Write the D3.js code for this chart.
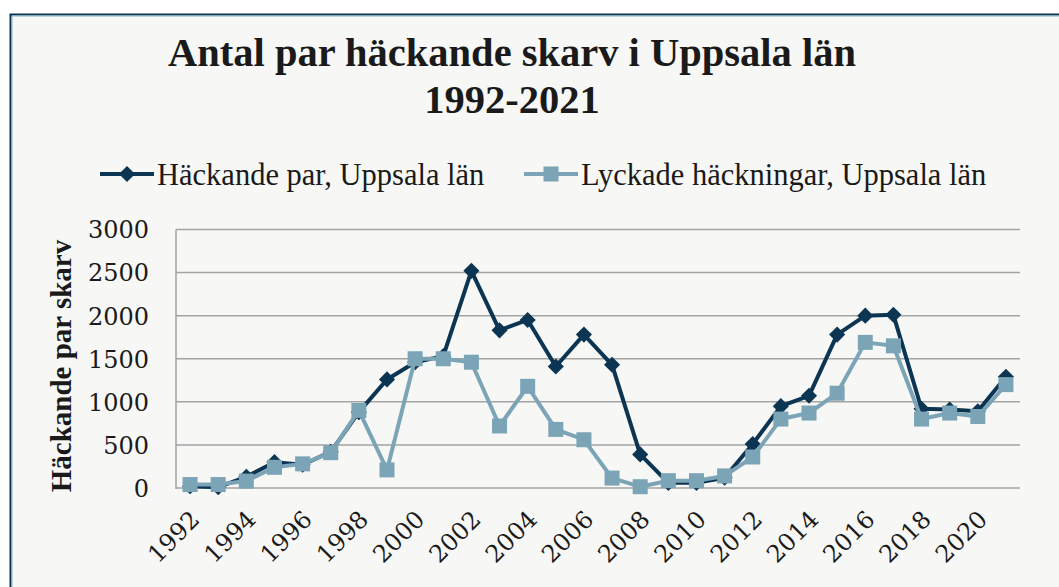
<!DOCTYPE html>
<html><head><meta charset="utf-8">
<script src="https://cdn.jsdelivr.net/npm/d3@7"></script>
<style>body{margin:0;background:#fff}svg{display:block}</style>
</head><body>
<svg id="c" width="1059" height="587"></svg>
<script>
const years = d3.range(1992, 2022);
const tickYears = [1992,1994,1996,1998,2000,2002,2004,2006,2008,2010,2012,2014,2016,2018,2020];
const yTicks = [0,500,1000,1500,2000,2500,3000];
const hackande = [20,10,130,300,270,420,880,1260,1460,1530,2520,1830,1950,1410,1780,1430,390,60,60,120,510,950,1070,1780,2000,2010,920,910,890,1290];
const lyckade = [40,40,80,240,280,410,900,210,1500,1500,1460,720,1180,680,560,115,15,85,85,140,360,800,870,1100,1690,1650,800,870,830,1200];
const seriesNames = ["Häckande par, Uppsala län","Lyckade häckningar, Uppsala län"];
const colors = ["#0b3553","#7ca4b7"];

const svg = d3.select("#c");
const serif = "'Liberation Serif', 'DejaVu Serif', serif";
const numFont = "'DejaVu Serif', serif";
svg.append("rect").attr("x",10).attr("y",14).attr("width",1060).attr("height",600).attr("fill","#f7f7f5");
svg.append("path").attr("d","M10.5,600 V14.5 H1059").attr("fill","none").attr("stroke","#0b3553").attr("stroke-width",2);
svg.append("path").attr("d","M12,600 V16 H1059").attr("fill","none").attr("stroke","#8fb2c4").attr("stroke-width",1);

// title
svg.append("text").attr("x",512).attr("y",66).attr("text-anchor","middle")
  .attr("font-family",serif).attr("font-weight","bold").attr("font-size",40.5).attr("fill","#1a1a1a")
  .text("Antal par häckande skarv i Uppsala län");
svg.append("text").attr("x",512).attr("y",113).attr("text-anchor","middle")
  .attr("font-family",serif).attr("font-weight","bold").attr("font-size",40.5).attr("fill","#1a1a1a")
  .text("1992-2021");

const x = d3.scaleBand().domain(years).range([176,1020]);
const y = d3.scaleLinear().domain([0,3000]).range([488,229.5]);
const cx = d => x(d) + x.bandwidth()/2;

// gridlines
svg.append("g").selectAll("line").data(yTicks).join("line")
  .attr("x1",176).attr("x2",1020).attr("y1",d=>y(d)).attr("y2",d=>y(d))
  .attr("stroke","#a3a3a3").attr("stroke-width",1.5);
svg.append("line").attr("x1",176).attr("x2",176).attr("y1",y(3000)).attr("y2",y(0)+1)
  .attr("stroke","#a3a3a3").attr("stroke-width",1.5);

// y axis
const ya = svg.append("g").attr("transform","translate(149,0)")
  .call(d3.axisLeft(y).tickValues(yTicks).tickFormat(d3.format("d")).tickSize(0).tickPadding(0));
ya.select(".domain").remove();
ya.selectAll("text").attr("font-family",numFont).attr("font-size",24).attr("fill","#1a1a1a").attr("dy","0.35em");

// x axis
const xa = svg.append("g").attr("transform","translate(0,488)")
  .call(d3.axisBottom(x).tickValues(tickYears).tickSize(0).tickPadding(0));
xa.select(".domain").remove();
xa.selectAll("text").attr("font-family",numFont).attr("font-size",24).attr("fill","#1a1a1a")
  .attr("text-anchor","end").attr("dy",null).attr("y",0)
  .attr("transform","translate(11,33) rotate(-45)");

// y title
svg.append("text").attr("transform","translate(71,366) rotate(-90)").attr("text-anchor","middle")
  .attr("font-family",serif).attr("font-weight","bold").attr("font-size",29).attr("fill","#1a1a1a")
  .text("Häckande par skarv");

const line = d3.line().x((d,i)=>cx(years[i])).y(d=>y(d));
const data = [hackande, lyckade];

data.forEach((vals,si)=>{
  const g = svg.append("g");
  g.append("path").datum(vals).attr("d",line).attr("fill","none")
    .attr("stroke",colors[si]).attr("stroke-width",4).attr("stroke-linejoin","round");
  if (si===0) {
    g.selectAll("path.m").data(vals).join("path").attr("class","m")
      .attr("d", d3.symbol().type(d3.symbolSquare).size(130))
      .attr("transform",(d,i)=>`translate(${cx(years[i])},${y(d)}) rotate(45)`)
      .attr("fill",colors[si]);
  } else {
    g.selectAll("rect").data(vals).join("rect")
      .attr("x",(d,i)=>cx(years[i])-7.5).attr("y",d=>y(d)-7.5)
      .attr("width",15).attr("height",15).attr("fill",colors[si]);
  }
});

// legend
const lg = svg.append("g");
const legX = [100, 524];
seriesNames.forEach((n,si)=>{
  const lx = legX[si], ly = 174;
  lg.append("line").attr("x1",lx).attr("x2",lx+54).attr("y1",ly).attr("y2",ly)
    .attr("stroke",colors[si]).attr("stroke-width",4);
  if (si===0) {
    lg.append("path").attr("d", d3.symbol().type(d3.symbolSquare).size(130))
      .attr("transform",`translate(${lx+27},${ly}) rotate(45)`).attr("fill",colors[si]);
  } else {
    lg.append("rect").attr("x",lx+27-7.5).attr("y",ly-7.5).attr("width",15).attr("height",15).attr("fill",colors[si]);
  }
  lg.append("text").attr("x",lx+57).attr("y",ly).attr("dy","0.35em")
    .attr("font-family",serif).attr("font-size",30.5).attr("fill","#1a1a1a").text(n);
});
</script>
</body></html>
